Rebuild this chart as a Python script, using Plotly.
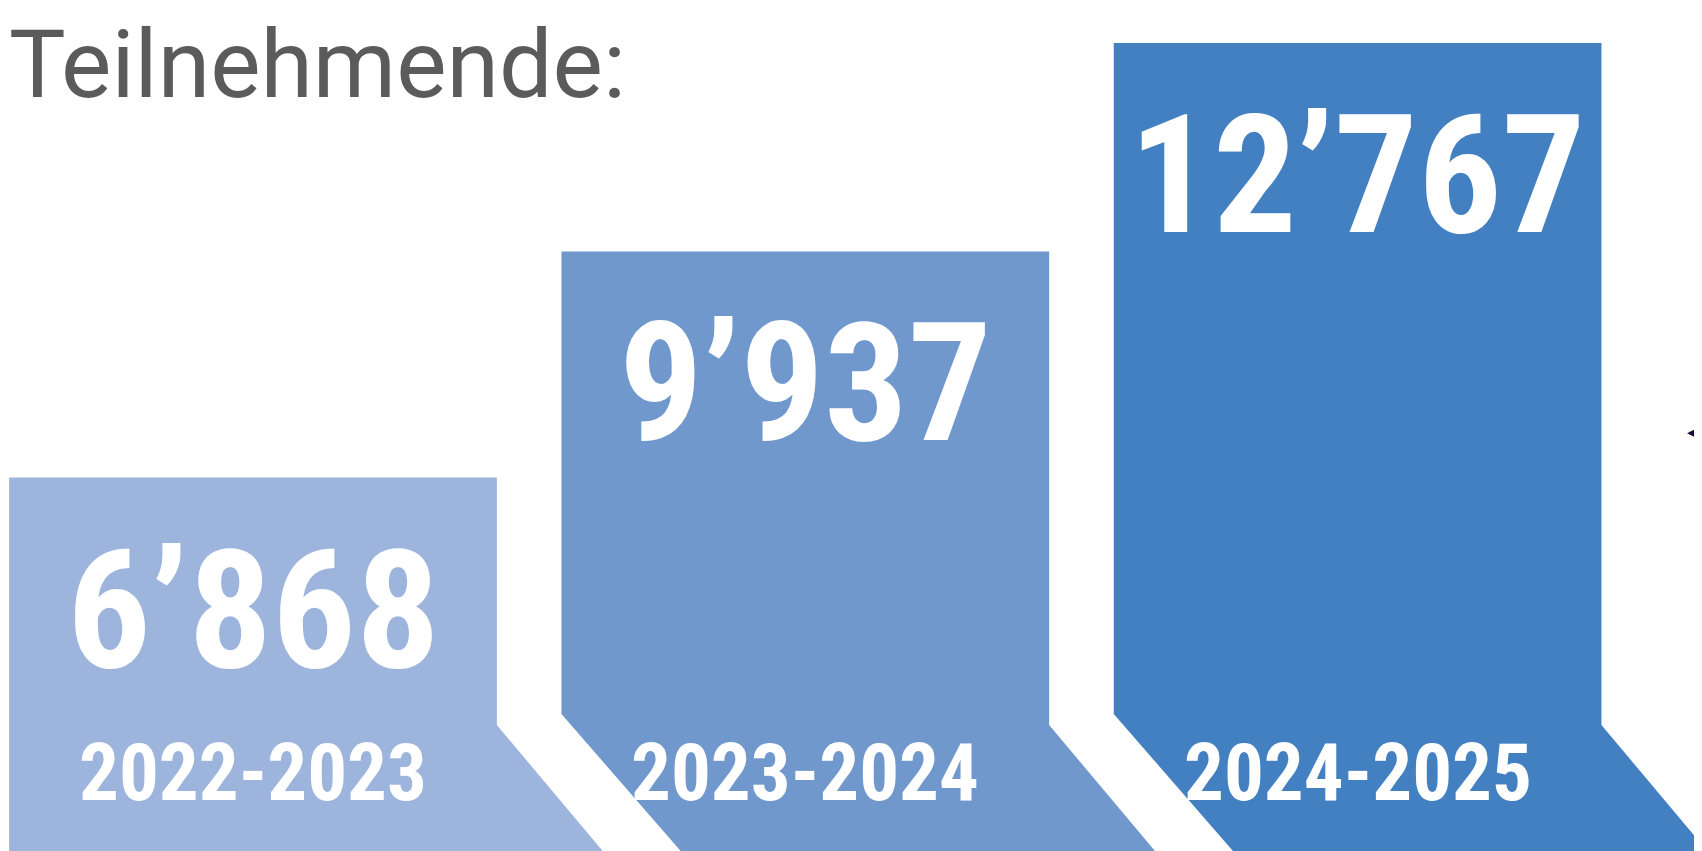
import plotly.graph_objects as go

# ---- data ----
seasons = ["2022-2023", "2023-2024", "2024-2025"]
participants = [6868, 9937, 12767]
value_labels = ["6’868", "9’937", "12’767"]
title_text = "Teilnehmende:"

colors = ["#9DB4DD", "#7098CD", "#4380C1"]

W, H = 1702, 851
OFF = 8  # page body margin
px_x = 552.3
px_y = 0.07368
x_left = -(253 - OFF) / px_x
x_range = [x_left, x_left + W / px_x]
y_page_bottom = 1800
y_lo = y_page_bottom - OFF / px_y
y_range = [y_lo, y_lo + H / px_y]

half_w = 487.7 / 2 / px_x
cut_r_px, cut_l_px = 126, 137
slope_r, slope_l = 0.84, 0.87

NUM_FONT = "Roboto Condensed, Roboto, sans-serif"

fig = go.Figure()
for i, (s, v) in enumerate(zip(seasons, participants)):
    xl, xr = i - half_w, i + half_w
    cut_r = y_page_bottom + cut_r_px / px_y
    cut_l = y_page_bottom + cut_l_px / px_y
    dxr = slope_r * (cut_r_px + OFF) / px_x
    dxl = slope_l * (cut_l_px + OFF) / px_x
    xs = [xl, xr, xr, xr + dxr]
    ys = [v, v, cut_r, y_lo]
    if i == 0:
        xs += [xl]
        ys += [y_lo]
    else:
        xs += [xl + dxl, xl]
        ys += [y_lo, cut_l]
    fig.add_trace(go.Scatter(x=xs, y=ys, fill="toself", mode="lines",
                             line=dict(width=0, color=colors[i]),
                             fillcolor=colors[i], hoverinfo="skip",
                             showlegend=False))
    fig.add_annotation(x=i, y=v, xref="x", yref="y", text=value_labels[i],
                       showarrow=False, yanchor="top", yshift=-33,
                       font=dict(family=NUM_FONT, size=166, color="white", weight="bold"))
    fig.add_annotation(x=i, y=1 - (773 - OFF) / H, xref="x", yref="paper", text=s,
                       showarrow=False, yanchor="middle",
                       font=dict(family=NUM_FONT, size=79, color="white", weight="bold"))

fig.add_annotation(x=0, y=1, xref="paper", yref="paper", text=title_text,
                   showarrow=False, xanchor="left", yanchor="top", xshift=0, yshift=0,
                   borderpad=0,
                   font=dict(family="Roboto, sans-serif", size=95, color="#5B5B5B"))

fig.add_annotation(x=1, y=1 - (431 - OFF) / H, xref="paper", yref="paper", text="◀",
                   showarrow=False, xanchor="right", yanchor="middle", xshift=-4,
                   font=dict(family="DejaVu Sans", size=22, color="#0D0D4A"))

fig.update_layout(width=W, height=H, margin=dict(l=0, r=0, t=0, b=0),
                  paper_bgcolor="white", plot_bgcolor="white",
                  xaxis=dict(range=x_range, visible=False, fixedrange=True),
                  yaxis=dict(range=y_range, visible=False, fixedrange=True))
fig.write_html("out.html")
